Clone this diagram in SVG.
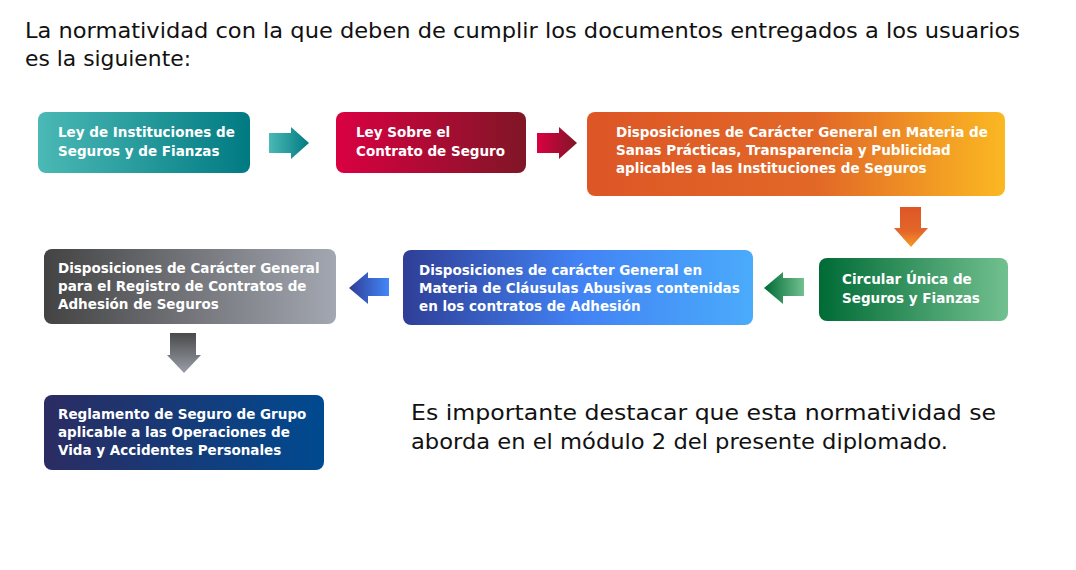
<svg xmlns="http://www.w3.org/2000/svg" width="1076" height="570" viewBox="0 0 1076 570">
<defs>
<linearGradient id="gTeal" x1="0" y1="0" x2="1" y2="0"><stop offset="0" stop-color="#4bb9b5"/><stop offset="1" stop-color="#007a82"/></linearGradient>
<linearGradient id="gRed" x1="0" y1="0" x2="1" y2="0"><stop offset="0" stop-color="#da0042"/><stop offset="1" stop-color="#7f1626"/></linearGradient>
<linearGradient id="gOrange" x1="0" y1="0" x2="1" y2="0"><stop offset="0" stop-color="#dd5626"/><stop offset="0.55" stop-color="#e26827"/><stop offset="1" stop-color="#fbb822"/></linearGradient>
<linearGradient id="gOrangeV" x1="0" y1="0" x2="0" y2="1"><stop offset="0" stop-color="#dd5626"/><stop offset="0.6" stop-color="#e4662a"/><stop offset="1" stop-color="#f79a26"/></linearGradient>
<linearGradient id="gGreen" x1="0" y1="0" x2="1" y2="0"><stop offset="0" stop-color="#006b35"/><stop offset="1" stop-color="#72c08f"/></linearGradient>
<linearGradient id="gBlue" x1="0" y1="0" x2="1" y2="0"><stop offset="0" stop-color="#2f3e96"/><stop offset="0.5" stop-color="#4282f4"/><stop offset="1" stop-color="#4aabfb"/></linearGradient>
<linearGradient id="gBlueA" x1="0" y1="0" x2="1" y2="0"><stop offset="0" stop-color="#2f3e96"/><stop offset="1" stop-color="#4287f8"/></linearGradient>
<linearGradient id="gGray" x1="0" y1="0" x2="1" y2="0"><stop offset="0" stop-color="#434343"/><stop offset="1" stop-color="#a3a7b1"/></linearGradient>
<linearGradient id="gGrayV" x1="0" y1="0" x2="0" y2="1"><stop offset="0" stop-color="#4a4a4a"/><stop offset="1" stop-color="#9a9ea8"/></linearGradient>
<linearGradient id="gNavy" x1="0" y1="0" x2="1" y2="0"><stop offset="0" stop-color="#2b2c62"/><stop offset="1" stop-color="#004a90"/></linearGradient>
</defs>
<style>
.t{font-family:"DejaVu Sans","Open Sans",sans-serif;fill:#111;}
.h{font-size:21px;}
.b{font-size:21px;}
.n{font-family:"DejaVu Sans","Open Sans",sans-serif;font-weight:bold;font-size:13.5px;fill:#fff;}
</style>
<rect width="1076" height="570" fill="#fff"/>
<text class="t h" x="25" y="38" textLength="995" lengthAdjust="spacingAndGlyphs">La normatividad con la que deben de cumplir los documentos entregados a los usuarios</text>
<text class="t h" x="25" y="66" textLength="166" lengthAdjust="spacingAndGlyphs">es la siguiente:</text>

<g id="connectors">
<path d="M269,133 H291 V127 L309,143 L291,159 V153 H269 Z" fill="url(#gTeal)"/>
<path d="M537,133 H559 V127 L577,143 L559,159 V153 H537 Z" fill="url(#gRed)"/>
<path d="M900,207 H921 V228 H928 L911,247 L894,228 H900 Z" fill="url(#gOrangeV)"/>
<path d="M804,278 H783 V272 L764,288 L783,304 V296 H804 Z" fill="url(#gGreen)"/>
<path d="M389,278 H368 V272 L349,288 L368,304 V296 H389 Z" fill="url(#gBlueA)"/>
<path d="M170,333 H196 V355 H201 L184,373 L167,355 H170 Z" fill="url(#gGrayV)"/>
</g>

<g id="n1">
<rect x="38" y="112" width="212" height="61" rx="8" fill="url(#gTeal)"/>
<text class="n" x="58" y="137">Ley de Instituciones de</text>
<text class="n" x="58" y="156">Seguros y de Fianzas</text>
</g>
<g id="n2">
<rect x="336" y="112" width="190" height="61" rx="8" fill="url(#gRed)"/>
<text class="n" x="356" y="137">Ley Sobre el</text>
<text class="n" x="356" y="156">Contrato de Seguro</text>
</g>
<g id="n3">
<rect x="587" y="112" width="418" height="84" rx="8" fill="url(#gOrange)"/>
<text class="n" x="616" y="137">Disposiciones de Carácter General en Materia de</text>
<text class="n" x="616" y="155">Sanas Prácticas, Transparencia y Publicidad</text>
<text class="n" x="616" y="173">aplicables a las Instituciones de Seguros</text>
</g>
<g id="n4">
<rect x="819" y="258" width="189" height="63" rx="8" fill="url(#gGreen)"/>
<text class="n" x="842" y="284">Circular Única de</text>
<text class="n" x="842" y="303">Seguros y Fianzas</text>
</g>
<g id="n5">
<rect x="403" y="250" width="350" height="75" rx="8" fill="url(#gBlue)"/>
<text class="n" x="419" y="275">Disposiciones de carácter General en</text>
<text class="n" x="419" y="293">Materia de Cláusulas Abusivas contenidas</text>
<text class="n" x="419" y="311">en los contratos de Adhesión</text>
</g>
<g id="n6">
<rect x="44" y="249" width="292" height="75" rx="8" fill="url(#gGray)"/>
<text class="n" x="58" y="273">Disposiciones de Carácter General</text>
<text class="n" x="58" y="291">para el Registro de Contratos de</text>
<text class="n" x="58" y="309">Adhesión de Seguros</text>
</g>
<g id="n7">
<rect x="44" y="395" width="280" height="75" rx="8" fill="url(#gNavy)"/>
<text class="n" x="58" y="419">Reglamento de Seguro de Grupo</text>
<text class="n" x="58" y="437">aplicable a las Operaciones de</text>
<text class="n" x="58" y="455">Vida y Accidentes Personales</text>
</g>

<text class="t b" x="411" y="420" textLength="585" lengthAdjust="spacingAndGlyphs">Es importante destacar que esta normatividad se</text>
<text class="t b" x="411" y="449" textLength="537" lengthAdjust="spacingAndGlyphs">aborda en el módulo 2 del presente diplomado.</text>
</svg>
